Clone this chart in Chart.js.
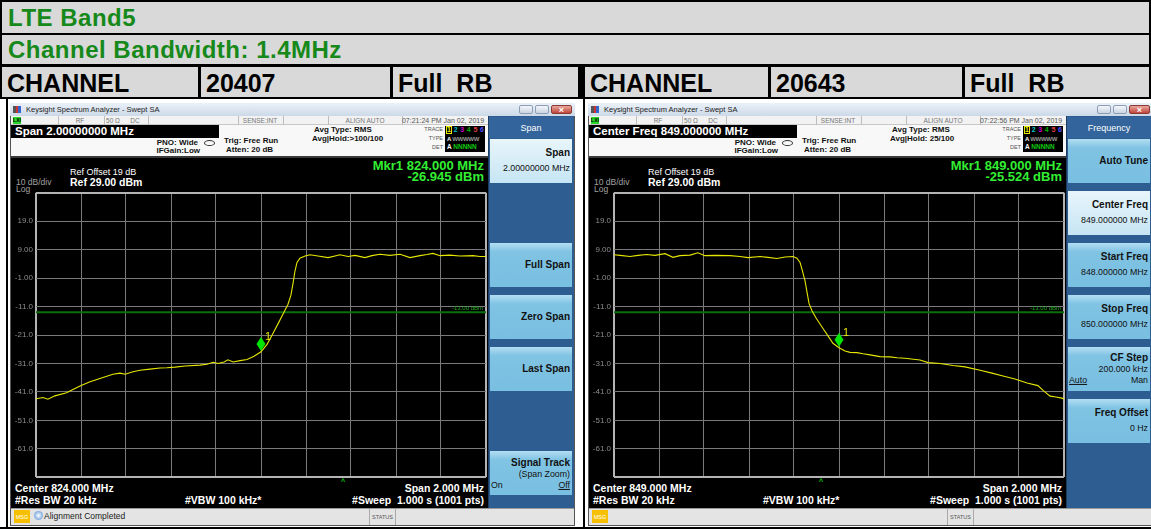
<!DOCTYPE html>
<html>
<head>
<meta charset="utf-8">
<script src="https://cdn.jsdelivr.net/npm/chart.js@4.4.1/dist/chart.umd.min.js"></script>
<style>
body{margin:0;width:1151px;height:529px;overflow:hidden;background:#fff;font-family:Arial,"Liberation Sans",sans-serif;position:relative}
.a{position:absolute;white-space:pre;line-height:1.15;box-sizing:border-box}
</style>
</head>
<body>
<div id="page"></div>
<script>
// trace readings (MHz, dBm) taken off the two analyzer screens
var leftFreqs = [823.000, 823.031, 823.053, 823.084, 823.136, 823.164, 823.196, 823.240, 823.284, 823.342, 823.373, 823.396, 823.431, 823.462, 823.507, 823.551, 823.582, 823.618, 823.662, 823.729, 823.760, 823.787, 823.809, 823.836, 823.853, 823.876, 823.907, 823.938, 823.969, 824.000, 824.027, 824.053, 824.076, 824.098, 824.120, 824.133, 824.142, 824.151, 824.160, 824.173, 824.196, 824.218, 824.253, 824.298, 824.329, 824.351, 824.387, 824.418, 824.462, 824.493, 824.529, 824.573, 824.618, 824.662, 824.707, 824.738, 824.764, 824.796, 824.840, 824.884, 824.942, 824.973, 825.000];
var leftLevels = [-43.4, -43.0, -43.6, -42.4, -41.3, -40.2, -38.9, -37.4, -36.3, -34.8, -34.4, -34.8, -33.9, -33.4, -33.0, -32.6, -32.5, -32.3, -31.9, -31.6, -31.3, -30.6, -31.0, -30.5, -29.7, -30.5, -30.0, -29.6, -28.5, -26.9, -24.3, -20.5, -17.0, -13.6, -10.2, -7.0, -3.0, 1.5, 4.5, 6.0, 6.8, 7.2, 6.8, 6.2, 6.8, 7.2, 6.6, 7.0, 6.2, 6.9, 7.4, 7.0, 7.4, 6.2, 6.9, 7.3, 7.7, 6.9, 7.1, 6.8, 6.9, 6.6, 6.6];

var rightFreqs = [848.000, 848.027, 848.071, 848.107, 848.145, 848.182, 848.227, 848.262, 848.293, 848.338, 848.373, 848.404, 848.449, 848.516, 848.560, 848.596, 848.649, 848.684, 848.724, 848.760, 848.796, 848.813, 848.827, 848.836, 848.849, 848.858, 848.867, 848.880, 848.898, 848.929, 848.951, 848.973, 849.000, 849.027, 849.049, 849.080, 849.107, 849.138, 849.182, 849.227, 849.258, 849.293, 849.360, 849.396, 849.449, 849.507, 849.560, 849.627, 849.680, 849.729, 849.782, 849.836, 849.884, 849.907, 849.938, 849.964, 849.991, 850.000];
var rightLevels = [7.2, 7.0, 6.6, 7.0, 7.3, 7.0, 7.6, 6.3, 6.9, 7.1, 7.9, 6.9, 7.0, 6.9, 6.6, 6.2, 6.6, 6.3, 5.9, 6.4, 6.6, 6.0, 4.5, 2.0, -2.0, -6.0, -10.0, -12.5, -15.0, -18.7, -21.3, -23.9, -25.5, -26.6, -27.1, -27.2, -27.6, -28.0, -28.6, -28.7, -29.0, -29.2, -29.8, -30.7, -31.0, -31.7, -32.2, -33.4, -34.4, -35.4, -36.5, -37.9, -38.8, -40.5, -42.5, -42.8, -43.2, -43.5];

var leftMarker = [824.000, -26.945];
var rightMarker = [849.000, -25.524];
var displayLine = -13;

var leftXTicks = [823.0, 823.2, 823.4, 823.6, 823.8, 824.0, 824.2, 824.4, 824.6, 824.8, 825.0];
var rightXTicks = [848.0, 848.2, 848.4, 848.6, 848.8, 849.0, 849.2, 849.4, 849.6, 849.8, 850.0];
var dbTicks = [29, 19, 9, -1, -11, -21, -31, -41, -51, -61, -71];
var dbLabels = ['', '19.0', '9.00', '-1.00', '-11.0', '-21.0', '-31.0', '-41.0', '-51.0', '-61.0', ''];

var page = document.getElementById('page');

function B(p, x, y, w, h, css) {
    var d = document.createElement('div');
    d.className = 'a';
    d.style.cssText = 'left:' + x + 'px;top:' + y + 'px;width:' + w + 'px;height:' + h + 'px;' + (css || '');
    p.appendChild(d);
    return d;
}

function T(p, x, y, txt, css, align) {
    var d = document.createElement('div');
    d.className = 'a';
    var tr = align === 'r' ? 'translate(-100%,-50%)' : align === 'c' ? 'translate(-50%,-50%)' : 'translateY(-50%)';
    d.style.cssText = 'left:' + x + 'px;top:' + y + 'px;transform:' + tr + ';' + (css || '');
    d.innerHTML = txt;
    p.appendChild(d);
    return d;
}

// ---- header table ----
B(page, 0, 0, 1151, 99, 'background:#000');
B(page, 2, 2, 1147, 31, 'background:#d9d9d9');
B(page, 2, 35, 1147, 29, 'background:#d9d9d9');
var green = 'font-size:24px;font-weight:bold;color:#16891a;letter-spacing:0.5px';
T(page, 8, 17.5, 'LTE Band5', green);
T(page, 8, 50, 'Channel Bandwidth: 1.4MHz', green);
var cells = [[2, 196], [201, 189], [393, 185], [585, 183], [771, 191], [965, 184]];
var cellText = ['CHANNEL', '20407', 'Full&nbsp; RB', 'CHANNEL', '20643', 'Full&nbsp; RB'];
cells.forEach(function (c, i) {
    B(page, c[0], 67, c[1], 30, 'background:#d9d9d9');
    T(page, c[0] + 5, 82.5, cellText[i], 'font-size:25px;font-weight:bold;color:#000');
});
B(page, 6, 97, 2, 432, 'background:#000');
B(page, 583, 97, 2, 432, 'background:#000');
B(page, 0, 527, 1151, 2, 'background:#000');

// ---- chart plugin: display line label + marker diamond ----
var mkrPlugin = {
    id: 'mkr',
    afterDatasetsDraw: function (chart, args, opts) {
        var c = chart.ctx, xs = chart.scales.x, ys = chart.scales.y;
        c.save();
        c.font = '6px Arial';
        c.fillStyle = '#22aa22';
        c.textAlign = 'right';
        c.textBaseline = 'bottom';
        c.fillText('-13.00 dBm', chart.chartArea.right - 3, ys.getPixelForValue(displayLine) - 1);
        var px = xs.getPixelForValue(opts.marker[0]), py = ys.getPixelForValue(opts.marker[1]);
        c.fillStyle = '#00e600';
        c.beginPath();
        c.moveTo(px, py - 15);
        c.lineTo(px + 4.5, py - 8);
        c.lineTo(px, py - 1);
        c.lineTo(px - 4.5, py - 8);
        c.closePath();
        c.fill();
        c.fillStyle = '#e6e600';
        c.font = '11px Arial';
        c.textAlign = 'left';
        c.textBaseline = 'middle';
        c.fillText('1', px + 4, py - 15);
        c.restore();
    }
};

function gridColor(ctx) {
    return (ctx.index === 0 || ctx.index === 10) ? '#b4b4b4' : '#7a7a7a';
}
function gridWidth(ctx) {
    return (ctx.index === 0 || ctx.index === 10) ? 2 : 1;
}

function drawTrace(canvas, freqs, levels, xTicks, marker) {
    var pts = freqs.map(function (f, i) { return { x: f, y: levels[i] }; });
    var lo = xTicks[0], hi = xTicks[xTicks.length - 1];
    return new Chart(canvas.getContext('2d'), {
        type: 'line',
        data: {
            datasets: [
                { data: pts, borderColor: '#e6e600', borderWidth: 1.1, pointRadius: 0, tension: 0 },
                { data: [{ x: lo, y: displayLine }, { x: hi, y: displayLine }], borderColor: '#0c6e0c', borderWidth: 2, pointRadius: 0 }
            ]
        },
        options: {
            responsive: false,
            animation: false,
            devicePixelRatio: 1,
            layout: { padding: { top: 5, right: 5, bottom: 5, left: 0 } },
            plugins: { legend: { display: false }, tooltip: { enabled: false }, mkr: { marker: marker } },
            scales: {
                x: {
                    type: 'linear', min: lo, max: hi,
                    afterBuildTicks: function (s) { s.ticks = xTicks.map(function (v) { return { value: v }; }); },
                    afterFit: function (s) { s.height = 0; },
                    ticks: { display: false, autoSkip: false },
                    grid: { color: gridColor, lineWidth: gridWidth, drawTicks: false },
                    border: { display: false }
                },
                y: {
                    min: -71, max: 29,
                    afterBuildTicks: function (s) { s.ticks = dbTicks.map(function (v) { return { value: v }; }); },
                    afterFit: function (s) { s.width = 24; },
                    ticks: {
                        autoSkip: false, padding: 3, color: '#8c8c8c',
                        font: { size: 8, family: 'Arial' },
                        callback: function (v) { return dbLabels[dbTicks.indexOf(v)]; }
                    },
                    grid: { color: gridColor, lineWidth: gridWidth, drawTicks: false },
                    border: { display: false }
                }
            }
        },
        plugins: [mkrPlugin]
    });
}

// ---- one analyzer screen, x coords given for the left one ----
function screen(ox, s) {
    var g = B(page, ox, 0, 0, 0, 'overflow:visible');
    B(g, 10, 103, 565, 423, 'background:#000;border:1px solid #555');
    // title bar
    B(g, 10, 103, 565, 13, 'background:linear-gradient(#eaf1f9,#cdd9e8)');
    B(g, 13, 106, 8, 7, 'background:linear-gradient(90deg,#555 0 40%,#c33 40% 60%,#36c 60%)');
    T(g, 26, 110, 'Keysight Spectrum Analyzer - Swept SA', 'font-size:7.5px;color:#222');
    B(g, 519, 105, 14, 9, 'background:linear-gradient(#f4f7fb,#c9d4e2);border:1px solid #8d9db3;border-radius:2px');
    B(g, 535, 105, 14, 9, 'background:linear-gradient(#f4f7fb,#c9d4e2);border:1px solid #8d9db3;border-radius:2px');
    B(g, 551, 105, 21, 9, 'background:linear-gradient(#eba89f,#c0453a);border:1px solid #8a3a32;border-radius:2px');
    T(g, 561.5, 109.5, '×', 'font-size:9px;color:#fff;font-weight:bold', 'c');
    // status row
    B(g, 11, 116, 477, 9, 'background:#f2f2f2;border-bottom:1px solid #c8c8c8');
    B(g, 13, 117, 8, 7, 'background:#2ad52a');
    T(g, 17, 120.5, 'LXI', 'font-size:5px;color:#000;font-weight:bold', 'c');
    [58, 104, 148, 238, 283, 328, 402].forEach(function (x) { B(g, x, 116, 1, 9, 'background:#bdbdbd'); });
    var st = 'font-size:6.5px;color:#777';
    T(g, 80, 120.5, 'RF', st, 'c');
    T(g, 113, 120.5, '50 Ω', st, 'c');
    T(g, 135, 120.5, 'DC', st, 'c');
    T(g, 260, 120.5, 'SENSE:INT', st, 'c');
    T(g, 365, 120.5, 'ALIGN AUTO', st, 'c');
    T(g, 443, 120.5, s.time, 'font-size:7px;color:#555', 'c');
    // setting bar and info block
    B(g, 11, 125, 477, 33, 'background:#f8f8f8;border-bottom:2px solid #3a3a3a');
    B(g, 11, 125, 208, 13, 'background:#000');
    T(g, 15, 131.5, s.bar, 'font-size:11.5px;font-weight:bold;color:#fff');
    var f8 = 'font-size:8px;font-weight:bold;color:#111';
    T(g, 198, 143, 'PNO: Wide', f8, 'r');
    T(g, 200, 151, 'IFGain:Low', f8, 'r');
    B(g, 204, 140, 11, 6, 'border:1px solid #333;border-radius:50%');
    T(g, 224, 140.5, 'Trig: Free Run', f8);
    T(g, 226, 149.5, 'Atten: 20 dB', f8);
    T(g, 314, 130, 'Avg Type: RMS', f8);
    T(g, 312, 139, s.avg, f8);
    var sm = 'font-size:5.5px;color:#555';
    T(g, 443, 129, 'TRACE', sm, 'r');
    T(g, 443, 138, 'TYPE', sm, 'r');
    T(g, 443, 147, 'DET', sm, 'r');
    B(g, 445, 126, 40, 26, 'background:#000');
    B(g, 446, 126, 6, 8, 'border:1px solid #e6e600');
    var dc = ['#e6e600', '#00c8c8', '#d000d0', '#00b000', '#e04040', '#5050ff'];
    dc.forEach(function (c, i) { T(g, 449 + i * 6.6, 130, String(i + 1), 'font-size:7px;font-weight:bold;color:' + c, 'c'); });
    T(g, 447, 138.5, '<span style="color:#fff">A</span> <span style="color:#999">WWWWW</span>', 'font-size:6px;font-weight:bold;letter-spacing:-0.3px');
    T(g, 447, 147, '<span style="color:#fff">A</span> <span style="color:#1c1">NNNNN</span>', 'font-size:6.5px;font-weight:bold');
    // black screen texts
    T(g, 70, 171.5, 'Ref Offset 19 dB', 'font-size:9px;color:#fff');
    T(g, 70, 181.5, 'Ref 29.00 dBm', 'font-size:10.5px;font-weight:bold;color:#fff');
    T(g, 16, 182.5, '10 dB/div', 'font-size:8.5px;color:#a0a0a0');
    T(g, 16, 189.5, 'Log', 'font-size:8.5px;color:#a0a0a0');
    var mk = 'font-size:13px;font-weight:bold;color:#33ee33';
    T(g, 484, 165.5, 'Mkr1 ' + s.marker[0].toFixed(3) + ' MHz', mk, 'r');
    T(g, 484, 177, s.marker[1].toFixed(3) + ' dBm', mk, 'r');
    T(g, s.caret, 482, '^', 'font-size:7px;color:#1c1;font-weight:bold', 'c');
    var bt = 'font-size:10.5px;font-weight:bold;color:#fff';
    T(g, 15, 488, s.center, bt);
    T(g, 15, 499.5, '#Res BW 20 kHz', bt);
    T(g, 185, 499.5, '#VBW 100 kHz*', bt);
    T(g, 484, 488, 'Span 2.000 MHz', bt, 'r');
    T(g, 484, 499.5, '#Sweep&nbsp; 1.000 s (1001 pts)', bt, 'r');
    // softkey panel
    B(g, 488, 116, 86, 392, 'background:#2e5d92;border-left:1px solid #1c3c62');
    B(g, 489, 117, 84, 21, 'background:#33659c');
    T(g, 531, 127.5, s.menu, 'font-size:9px;color:#fff', 'c');
    var kt = 'font-size:10px;font-weight:bold;color:#111';
    var kv = 'font-size:8.8px;color:#111';
    s.keys.forEach(function (k, i) {
        if (!k) return;
        var top = 139 + i * 52;
        B(g, 490, top, 82, 44, k.sel ? 'background:linear-gradient(#e8f5fb,#c6e5f4)' :
            'background:linear-gradient(#b3def2 0,#80c3e3 20%,#79bfe1 100%)');
        if (k.onoff) {
            T(g, 570, top + 11.5, k.t, kt, 'r');
            T(g, 570, top + 23, k.v, kv, 'r');
            T(g, 491, top + 34, 'On', kv);
            T(g, 570, top + 34, '<u>Off</u>', kv, 'r');
        } else if (k.automan) {
            T(g, 570, top + 11, k.t, kt, 'r');
            T(g, 570, top + 21.5, k.v, kv, 'r');
            T(g, 491, top + 33, '<u>Auto</u>', kv);
            T(g, 570, top + 33, 'Man', kv, 'r');
        } else if (k.v) {
            T(g, 570, top + 13.5, k.t, kt, 'r');
            T(g, 570, top + 29, k.v, kv, 'r');
        } else {
            T(g, 570, top + 22, k.t, kt, 'r');
        }
    });
    // message bar
    B(g, 11, 508, 563, 17, 'background:#e4e4e4;border-top:1px solid #999');
    B(g, 14, 510, 16, 13, 'background:#f6c000');
    T(g, 22, 516.5, 'MSG', 'font-size:5.5px;color:#fff', 'c');
    if (s.msg) {
        B(g, 34, 511, 9, 9, 'border-radius:50%;background:radial-gradient(#fff,#4a86d0)');
        T(g, 44, 517, s.msg, 'font-size:8.5px;color:#222');
    }
    B(g, 369, 509, 27, 16, 'border-left:1px solid #aaa;border-right:1px solid #aaa');
    T(g, 382.5, 516.5, 'STATUS', 'font-size:5.5px;color:#555', 'c');
    // plot
    var cv = document.createElement('canvas');
    cv.width = 479;
    cv.height = 300;
    cv.style.cssText = 'position:absolute;left:12px;top:185px';
    g.appendChild(cv);
    drawTrace(cv, s.freqs, s.levels, s.xTicks, s.marker);
}

screen(0, {
    time: '07:21:24 PM Jan 02, 2019', bar: 'Span 2.00000000 MHz', avg: 'Avg|Hold:&gt;100/100',
    marker: leftMarker, caret: 343, center: 'Center 824.000 MHz', msg: 'Alignment Completed',
    menu: 'Span',
    keys: [
        { t: 'Span', v: '2.00000000 MHz', sel: true }, null,
        { t: 'Full Span' }, { t: 'Zero Span' }, { t: 'Last Span' }, null,
        { t: 'Signal Track', v: '(Span Zoom)', onoff: true }
    ],
    freqs: leftFreqs, levels: leftLevels, xTicks: leftXTicks
});

screen(578, {
    time: '07:22:56 PM Jan 02, 2019', bar: 'Center Freq 849.000000 MHz', avg: 'Avg|Hold: 25/100',
    marker: rightMarker, caret: 243, center: 'Center 849.000 MHz', msg: '',
    menu: 'Frequency',
    keys: [
        { t: 'Auto Tune' }, { t: 'Center Freq', v: '849.000000 MHz', sel: true },
        { t: 'Start Freq', v: '848.000000 MHz' }, { t: 'Stop Freq', v: '850.000000 MHz' },
        { t: 'CF Step', v: '200.000 kHz', automan: true }, { t: 'Freq Offset', v: '0 Hz' }, null
    ],
    freqs: rightFreqs, levels: rightLevels, xTicks: rightXTicks
});
</script>
</body>
</html>
